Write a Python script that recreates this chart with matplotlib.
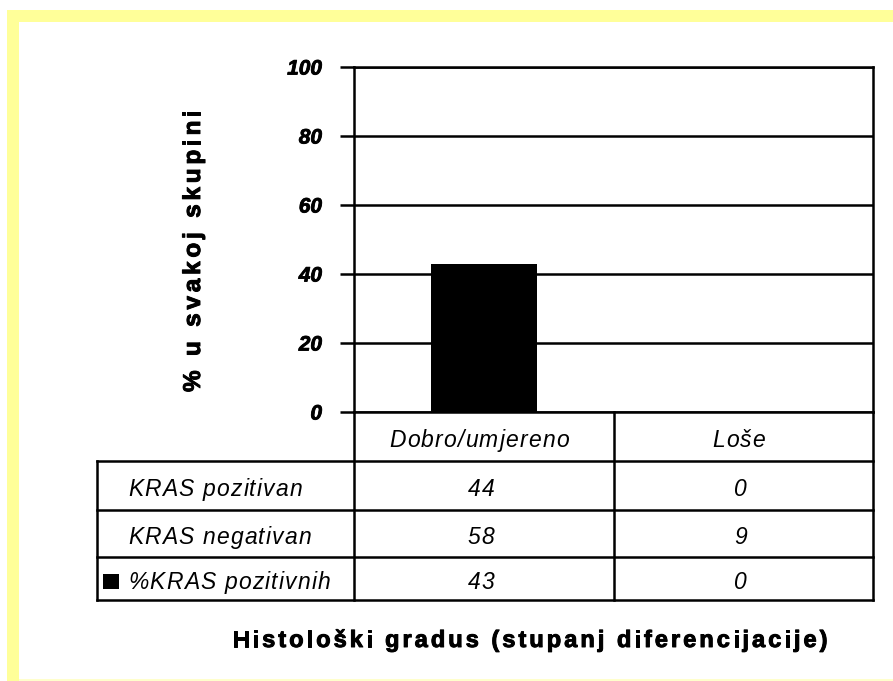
import matplotlib.pyplot as plt
import matplotlib.patheffects as pe
from matplotlib.patches import Rectangle
from matplotlib.lines import Line2D
from matplotlib.font_manager import FontProperties, findfont, get_font

plt.rcParams['font.family'] = ['Liberation Sans', 'DejaVu Sans']

kategorije = ['Dobro/umjereno', 'Loše']
kras_pozitivan = [44, 0]
kras_negativan = [58, 9]
posto_pozitivnih = [43, 0]
redovi = ['KRAS pozitivan', 'KRAS negativan', '%KRAS pozitivnih']
y_tickovi = [0, 20, 40, 60, 80, 100]

W, H = 893, 681
DPI = 100
fig = plt.figure(figsize=(W / DPI, H / DPI), dpi=DPI)

# malo deblji bold, kao u Excelu
deblje = [pe.withStroke(linewidth=0.7, foreground='black')]


def fx(px):
    return px / W


def fy(py):
    return 1 - py / H


def sirine(s, fp):
    # sirina svakog znaka u pikselima
    font = get_font(findfont(fp))
    font.set_size(fp.get_size_in_points(), DPI)
    return [font.load_char(ord(c)).linearHoriAdvance / 65536 for c in s]


def razmaknut_tekst(x, y, s, size, weight='normal', style='normal', razmak=0.0,
                    ukupno=None, ha='center', vertikalno=False, efekti=None):
    # Excel crta tekst malo razmaknuto, pa se slova slazu jedno po jedno
    fp = FontProperties(family='Liberation Sans', size=size, weight=weight, style=style)
    w = sirine(s, fp)
    if ukupno is not None:
        razmak = (ukupno - sum(w)) / (len(s) - 1)
    total = sum(w) + razmak * (len(s) - 1)
    start = x if ha == 'left' else x - total / 2
    if vertikalno:
        start = y + total / 2
    pos = 0.0
    for c, cw in zip(s, w):
        if vertikalno:
            t = fig.text(fx(x), fy(start - pos), c, fontproperties=fp, rotation=90,
                         rotation_mode='anchor', ha='left', va='baseline')
        else:
            t = fig.text(fx(start + pos), fy(y), c, fontproperties=fp, ha='left', va='baseline')
        if efekti:
            t.set_path_effects(efekti)
        pos += cw + razmak


# zuti okvir
fig.patches.append(Rectangle((fx(7), fy(681)), fx(12), 671 / H, transform=fig.transFigure,
                             facecolor='#ffff99', edgecolor='none'))
fig.patches.append(Rectangle((fx(7), fy(22)), fx(886), 12 / H, transform=fig.transFigure,
                             facecolor='#ffff99', edgecolor='none'))
fig.patches.append(Rectangle((fx(19), fy(681)), fx(874), 2 / H, transform=fig.transFigure,
                             facecolor='#ffffcc', edgecolor='none'))

L, R, T, B = 354, 873, 67, 412
lw = 1.8
ax = fig.add_axes([fx(L), fy(B), (R - L) / W, (B - T) / H])
ax.bar(range(len(kategorije)), posto_pozitivnih, width=0.41, color='black', zorder=3)
ax.set_xlim(-0.5, len(kategorije) - 0.5)
ax.set_ylim(0, 100)
ax.set_yticks(y_tickovi)
ax.set_yticklabels([str(v) for v in y_tickovi], fontsize=15, fontweight='bold', fontstyle='italic')
for t in ax.get_yticklabels():
    t.set_path_effects([pe.withStroke(linewidth=0.6, foreground='black')])
ax.tick_params(axis='y', length=10, width=lw, pad=13)
ax.set_xticks([])
ax.grid(axis='y', color='black', linewidth=lw, zorder=1)
for s in ax.spines.values():
    s.set_linewidth(lw)

razmaknut_tekst(200, 251, '% u svakoj skupini', 17.5, weight='bold', ukupno=282,
                vertikalno=True, efekti=deblje)

# tablica ispod grafa
col_x = [L, 614, R]
row_y = [B, 461, 510, 557, 600]
TL = 97


def linija(x0, x1, y0, y1):
    fig.lines.append(Line2D([fx(x0), fx(x1)], [fy(y0), fy(y1)], transform=fig.transFigure,
                            color='black', linewidth=lw, solid_capstyle='projecting'))


for x in col_x:
    linija(x, x, B, row_y[-1])
linija(TL, TL, row_y[1], row_y[-1])
for y in row_y[1:]:
    linija(TL, R, y, y)

vel = 16.5
raz = 1.2
for i, k in enumerate(kategorije):
    cx = (col_x[i] + col_x[i + 1]) / 2 - 5
    razmaknut_tekst(cx, (row_y[0] + row_y[1]) / 2 + 10.5, k, vel, style='italic', razmak=raz)

vrijednosti = [kras_pozitivan, kras_negativan, posto_pozitivnih]
for r, (naziv, vals) in enumerate(zip(redovi, vrijednosti)):
    by = (row_y[r + 1] + row_y[r + 2]) / 2 + 10.5
    razmaknut_tekst(128, by, naziv, vel, style='italic', razmak=raz, ha='left')
    for i, v in enumerate(vals):
        cx = (col_x[i] + col_x[i + 1]) / 2 - 3
        razmaknut_tekst(cx, by, str(v), vel, style='italic', razmak=raz)

# legenda kvadratic
fig.patches.append(Rectangle((fx(103), fy(589)), fx(16), 15 / H, transform=fig.transFigure,
                             facecolor='black', edgecolor='none'))

razmaknut_tekst(530, 647, 'Histološki gradus (stupanj diferencijacije)', 17, weight='bold',
                ukupno=595, efekti=deblje)

fig.savefig('out.png', dpi=DPI)
